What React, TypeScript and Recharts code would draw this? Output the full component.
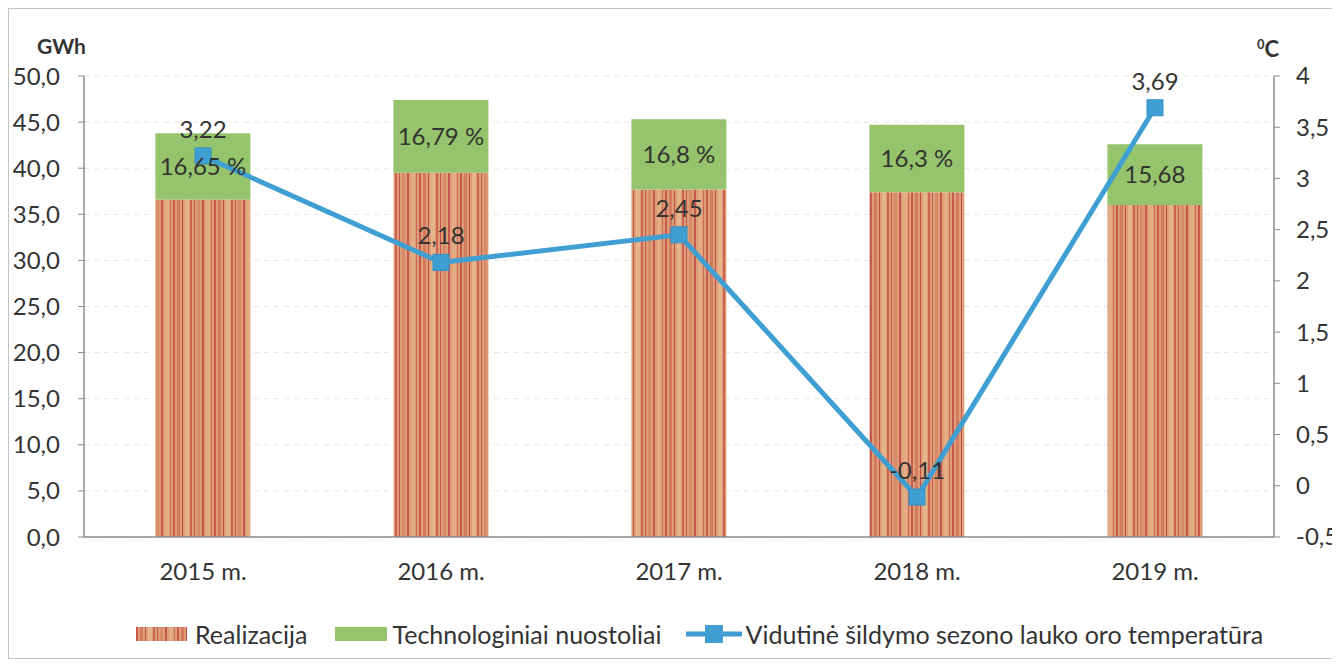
import React from 'react';
import { ComposedChart, Bar, Line, XAxis, YAxis, CartesianGrid, LabelList } from 'recharts';

const categories = ['2015 m.', '2016 m.', '2017 m.', '2018 m.', '2019 m.'];
const realizacija = [36.6, 39.5, 37.7, 37.4, 36.0];
const nuostoliai = [7.2, 7.9, 7.6, 7.3, 6.6];
const nuostoliaiLabels = ['16,65 %', '16,79 %', '16,8 %', '16,3 %', '15,68'];
const temperatura = [3.22, 2.18, 2.45, -0.11, 3.69];
const leftTicks = [0, 5, 10, 15, 20, 25, 30, 35, 40, 45, 50];
const rightTicks = [-0.5, 0, 0.5, 1, 1.5, 2, 2.5, 3, 3.5, 4];
const seriesNames = ['Realizacija', 'Technologiniai nuostoliai', 'Vidutinė šildymo sezono lauko oro temperatūra'];

const data = categories.map((c, i) => ({
  name: c,
  real: realizacija[i],
  loss: nuostoliai[i],
  lossLabel: nuostoliaiLabels[i],
  temp: temperatura[i],
}));

const FONT = 'Lato, "Open Sans", sans-serif';
const TXT = '#333333';
const GREEN = '#95c46c';
const BLUE = '#3f9fd3';

const fmtLeft = (v: number) => v.toFixed(1).replace('.', ',');
const fmtRight = (v: number) => String(v).replace('.', ',');

const stripeRects = [
  [0, 2, '#c9584e'],
  [4, 3, '#d37a60'],
  [9, 1, '#c44c48'],
  [12, 4, '#e6b48a'],
  [17, 2, '#cd6254'],
  [21, 1, '#c85450'],
  [24, 3, '#d98a68'],
  [29, 2, '#c75650'],
  [33, 4, '#e3ac84'],
  [38, 1, '#cf6658'],
] as const;

const StripePattern = ({ id }: { id: string }) => (
  <pattern id={id} patternUnits="userSpaceOnUse" width="41" height="8">
    <rect x="0" y="0" width="41" height="8" fill="#dd9f77" />
    {stripeRects.map(([x, w, c], i) => (
      <rect key={i} x={x} y={0} width={w} height={8} fill={c} />
    ))}
  </pattern>
);

const SquareDot = (props: any) => {
  const { cx, cy } = props;
  if (cx == null || cy == null) return null;
  return <rect x={cx - 8} y={cy - 8} width={16} height={16} fill={BLUE} stroke="#3590c4" strokeWidth={1} />;
};

const RightTick = (props: any) => {
  const { x, y, payload } = props;
  return (
    <text x={x} y={y} dy="0.35em" textAnchor="start" fill={TXT} fontSize={24} fontFamily={FONT}>
      {fmtRight(payload.value)}
    </text>
  );
};

export default function App() {
  return (
    <div
      style={{
        position: 'relative',
        width: 1328,
        height: 649,
        border: '1px solid #c4c4c4',
        background: '#fff',
        fontFamily: FONT,
      }}
    >
      <div style={{ position: 'absolute', left: 28, top: 24, fontSize: 21, fontWeight: 700, color: TXT }}>GWh</div>
      <div style={{ position: 'absolute', left: 1248, top: 26, fontSize: 22, fontWeight: 700, color: TXT }}>
        <span style={{ fontSize: 13, verticalAlign: 'top', position: 'relative', top: 1 }}>0</span>C
      </div>
      <div style={{ position: 'absolute', left: 0, top: 0 }}>
        <ComposedChart
          width={1331}
          height={649}
          data={data}
          margin={{ top: 67, right: 8, left: 0, bottom: 71 }}
          barCategoryGap="30%"
        >
          <defs>
            <StripePattern id="realStripes" />
          </defs>
          <CartesianGrid vertical={false} stroke="#e6e6e6" strokeDasharray="5 5" yAxisId="left" />
          <XAxis
            dataKey="name"
            tickLine={false}
            tickSize={0}
            tickMargin={26}
            axisLine={{ stroke: '#8c8c8c', strokeWidth: 1.5 }}
            tick={{ fill: TXT, fontSize: 24, fontFamily: FONT }}
            height={50}
          />
          <YAxis
            yAxisId="left"
            width={75}
            domain={[0, 50]}
            ticks={leftTicks}
            interval={0}
            tickFormatter={fmtLeft}
            tickSize={6}
            tickMargin={18}
            axisLine={{ stroke: '#8c8c8c', strokeWidth: 1.5 }}
            tickLine={{ stroke: '#8c8c8c' }}
            tick={{ fill: TXT, fontSize: 24, fontFamily: FONT }}
          />
          <YAxis
            yAxisId="right"
            orientation="right"
            width={58}
            domain={[-0.5, 4]}
            ticks={rightTicks}
            interval={0}
            tickSize={6}
            tickMargin={16}
            axisLine={{ stroke: '#8c8c8c', strokeWidth: 1.5 }}
            tickLine={{ stroke: '#8c8c8c' }}
            tick={<RightTick />}
          />
          <Bar yAxisId="left" dataKey="real" stackId="a" fill="url(#realStripes)" isAnimationActive={false} name={seriesNames[0]} />
          <Bar yAxisId="left" dataKey="loss" stackId="a" fill={GREEN} isAnimationActive={false} name={seriesNames[1]}>
            <LabelList dataKey="lossLabel" position="center" fill={TXT} fontSize={24} fontFamily={FONT} />
          </Bar>
          <Line
            yAxisId="right"
            type="linear"
            dataKey="temp"
            stroke={BLUE}
            strokeWidth={5}
            dot={<SquareDot />}
            activeDot={false}
            isAnimationActive={false}
            name={seriesNames[2]}
          >
            <LabelList
              dataKey="temp"
              position="top"
              offset={18}
              formatter={(v: any) => String(v).replace('.', ',')}
              fill={TXT}
              fontSize={24}
              fontFamily={FONT}
            />
          </Line>
        </ComposedChart>
      </div>
      <div
        style={{
          position: 'absolute',
          left: 127,
          top: 610,
          height: 30,
          display: 'flex',
          alignItems: 'center',
          fontSize: 25,
          color: TXT,
          whiteSpace: 'nowrap',
        }}
      >
        <svg width={51} height={14} style={{ marginRight: 8 }}>
          <defs>
            <StripePattern id="legendStripes" />
          </defs>
          <rect x={0} y={0} width={51} height={14} fill="url(#legendStripes)" />
        </svg>
        <span style={{ marginRight: 28 }}>{seriesNames[0]}</span>
        <svg width={52} height={14} style={{ marginRight: 5 }}>
          <rect x={0} y={0} width={52} height={14} fill={GREEN} />
        </svg>
        <span style={{ marginRight: 25 }}>{seriesNames[1]}</span>
        <svg width={56} height={20} style={{ marginRight: 3 }}>
          <line x1={0} y1={10} x2={56} y2={10} stroke={BLUE} strokeWidth={5} />
          <rect x={19} y={1} width={18} height={18} fill={BLUE} />
        </svg>
        <span>{seriesNames[2]}</span>
      </div>
    </div>
  );
}
